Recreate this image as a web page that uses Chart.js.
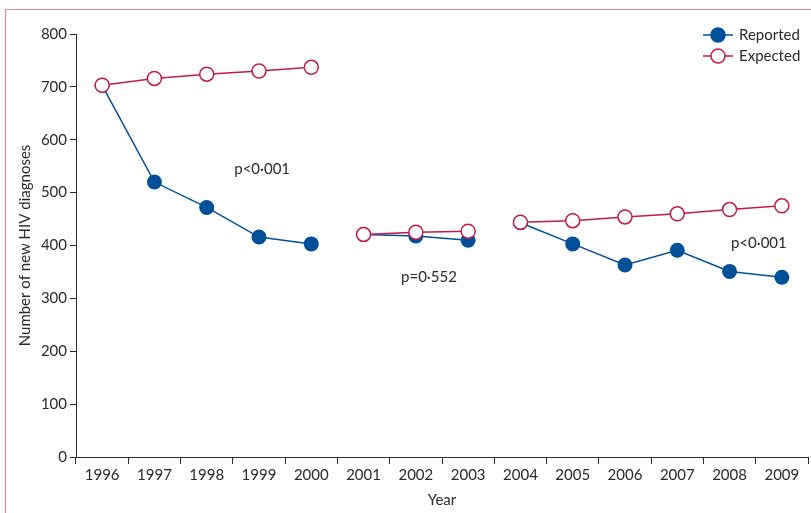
<!DOCTYPE html>
<html>
<head>
<meta charset="utf-8">
<script src="https://cdn.jsdelivr.net/npm/chart.js@4.4.1/dist/chart.umd.min.js"></script>
<style>
  html, body { margin:0; padding:0; background:#fff; }
  #wrap { position:relative; width:811px; height:513px; overflow:hidden; }
  #frame { position:absolute; left:5px; top:9px; width:900px; height:600px;
           border-top:1.5px solid #d9869e; border-left:1.5px solid #d9869e; }
  canvas { position:absolute; left:0; top:0; }
</style>
</head>
<body>
<div id="wrap">
  <div id="frame"></div>
  <canvas id="cv" width="811" height="513"></canvas>
</div>
<script>
// data
const years    = ['1996','1997','1998','1999','2000','2001','2002','2003','2004','2005','2006','2007','2008','2009'];
const reported = [703, 520, 472, 416, 403, 421, 418, 410, 443, 403, 363, 391, 351, 340];
const expected = [703, 716, 724, 730, 737, 421, 425, 427, 444, 447, 454, 460, 468, 475];
const breaks   = [5, 8]; // no line into these points (new period starts)
const pLabels  = [
  { x: 3.06, y: 544, text: 'p<0\u00b7001' },
  { x: 6.25, y: 340, text: 'p=0\u00b7552' },
  { x: 12.56, y: 405, text: 'p<0\u00b7001' }
];

const BLUE = '#004f99', RED = '#c41a48', INK = '#2a2a2a';
const FONT = 'Lato, "Noto Sans", sans-serif';

const segColor = c => breaks.includes(c.p1DataIndex) ? 'transparent' : undefined;

const extras = {
  id: 'extras',
  afterDatasetsDraw(chart) {
    const ctx = chart.ctx, xs = chart.scales.x, ys = chart.scales.y;
    ctx.save();
    ctx.fillStyle = INK;
    ctx.font = '15px ' + FONT;
    ctx.textAlign = 'center';
    ctx.textBaseline = 'middle';
    pLabels.forEach(p => ctx.fillText(p.text, xs.getPixelForValue(p.x), ys.getPixelForValue(p.y)));
    // legend
    const items = [
      { label: 'Reported', color: BLUE, fill: BLUE },
      { label: 'Expected', color: RED, fill: '#fff' }
    ];
    ctx.textAlign = 'left';
    items.forEach((it, i) => {
      const y = 35 + i * 21, x0 = 703, x1 = 733, cx = 718;
      ctx.strokeStyle = it.color; ctx.lineWidth = 1.5;
      ctx.beginPath(); ctx.moveTo(x0, y); ctx.lineTo(x1, y); ctx.stroke();
      ctx.beginPath(); ctx.arc(cx, y, 7, 0, Math.PI * 2);
      ctx.fillStyle = it.fill; ctx.fill(); ctx.stroke();
      ctx.fillStyle = INK;
      ctx.fillText(it.label, 739, y);
    });
    ctx.restore();
  }
};

new Chart(document.getElementById('cv').getContext('2d'), {
  type: 'line',
  data: {
    labels: years,
    datasets: [
      { label: 'Reported', data: reported, borderColor: BLUE, backgroundColor: BLUE,
        borderWidth: 1.5, pointRadius: 7.5, pointBorderWidth: 0, pointBackgroundColor: BLUE,
        segment: { borderColor: segColor }, order: 2 },
      { label: 'Expected', data: expected, borderColor: RED, backgroundColor: '#fff',
        borderWidth: 1.5, pointRadius: 7, pointBorderWidth: 1.5, pointBackgroundColor: '#fff',
        pointBorderColor: RED, segment: { borderColor: segColor }, order: 1 }
    ]
  },
  options: {
    responsive: false,
    animation: false,
    layout: { autoPadding: false, padding: { top: 34, right: 3, left: 10, bottom: 4 } },
    plugins: { legend: { display: false }, tooltip: { enabled: false } },
    scales: {
      x: {
        offset: true,
        grid: { offset: true, drawOnChartArea: false, color: INK, tickLength: 7, lineWidth: 1 },
        border: { color: INK, width: 1 },
        ticks: { color: INK, font: { family: FONT, size: 15 }, padding: 2, maxRotation: 0, autoSkip: false },
        title: { display: true, text: 'Year', color: INK, font: { family: FONT, size: 15 }, padding: { top: 2, bottom: 0 } },
        afterFit: s => { s.height = 52; }
      },
      y: {
        min: 0, max: 800,
        grid: { drawOnChartArea: false, color: INK, tickLength: 6, lineWidth: 1 },
        border: { color: INK, width: 1 },
        ticks: { stepSize: 100, color: INK, font: { family: FONT, size: 15 }, padding: 3 },
        title: { display: true, text: 'Number of new HIV diagnoses', color: INK, font: { family: FONT, size: 15 }, padding: { top: 6, bottom: 2 } },
        afterFit: s => { s.width = 66; }
      }
    }
  },
  plugins: [extras]
});
</script>
</body>
</html>
